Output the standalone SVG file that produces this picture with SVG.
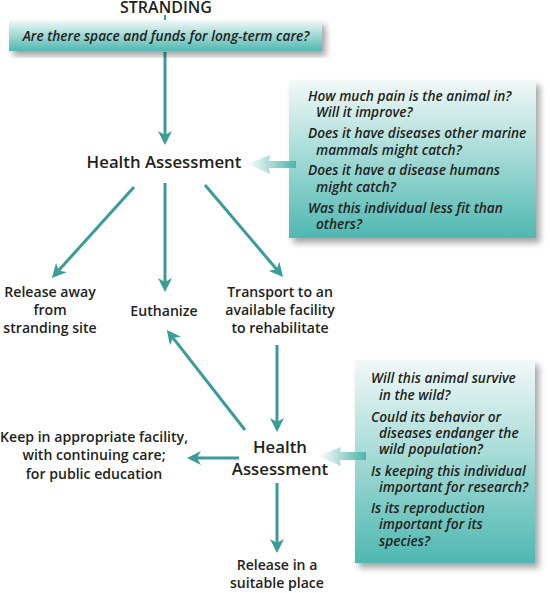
<svg xmlns="http://www.w3.org/2000/svg" width="550" height="593" viewBox="0 0 550 593">
<defs>
<style>
.lbl{font-family:"Open Sans","Liberation Sans",sans-serif;font-weight:600;fill:#231f20;text-anchor:middle}
.n{font-size:14.1px}
.big{font-size:16.8px}
.q{font-family:"Open Sans","Liberation Sans",sans-serif;font-style:italic;font-weight:600;font-size:13.7px;fill:#231f20}
.ln{stroke:#3a9c97;stroke-width:3;fill:none;marker-end:url(#ah)}
.box{fill:url(#bg);filter:url(#sh)}
</style>
<linearGradient id="bg" x1="0" y1="0" x2="0" y2="1">
<stop offset="0" stop-color="#f2f9f8"/>
<stop offset="1" stop-color="#4fb8b1"/>
</linearGradient>
<linearGradient id="fa" x1="0" y1="0" x2="1" y2="0">
<stop offset="0" stop-color="#ffffff"/>
<stop offset="1" stop-color="#4db3ac"/>
</linearGradient>
<filter id="sh" x="-10%" y="-10%" width="125%" height="130%">
<feDropShadow dx="4" dy="5" stdDeviation="3" flood-color="#000" flood-opacity="0.35"/>
</filter>
<marker id="ah" markerWidth="16" markerHeight="14" refX="4" refY="7" orient="auto" markerUnits="userSpaceOnUse">
<path d="M0,0 L14,7 L0,14 L4,7 Z" fill="#3a9c97"/>
</marker>
</defs>
<rect width="550" height="593" fill="#ffffff"/>

<g id="connectors">
<line x1="165" y1="15" x2="165" y2="21" stroke="#3a9c97" stroke-width="2"/>
<line class="ln" x1="165" y1="52" x2="165" y2="135"/>
<line class="ln" x1="134" y1="187" x2="58.6" y2="270.5"/>
<line class="ln" x1="165" y1="183" x2="165" y2="282"/>
<line class="ln" x1="205" y1="185" x2="276.6" y2="269.3"/>
<line class="ln" x1="245" y1="430" x2="173" y2="337.8"/>
<line class="ln" x1="277" y1="345" x2="277" y2="422"/>
<line class="ln" x1="239" y1="458" x2="197" y2="458"/>
<line class="ln" x1="277" y1="483" x2="277" y2="543"/>
</g>

<g id="stranding">
<text class="lbl" x="166" y="12.5" font-size="16" font-weight="700">STRANDING</text>
</g>

<g id="longterm">
<rect class="box" x="9" y="20" width="313" height="31"/>
<text class="q" x="166" y="41" text-anchor="middle" font-size="14.4">Are there space and funds for long-term care?</text>
</g>

<g id="questions1">
<rect class="box" x="289" y="80" width="247" height="158"/>
<text class="q" x="308" y="101">How much pain is the animal in?</text>
<text class="q" x="316" y="117">Will it improve?</text>
<text class="q" x="308" y="138">Does it have diseases other marine</text>
<text class="q" x="316" y="155">mammals might catch?</text>
<text class="q" x="308" y="175">Does it have a disease humans</text>
<text class="q" x="316" y="192">might catch?</text>
<text class="q" x="308" y="213">Was this individual less fit than</text>
<text class="q" x="316" y="229">others?</text>
</g>

<g id="fatarrow1">
<polygon points="247,164 270,155 269,161 296,161 296,168 269,168 270,174" fill="url(#fa)"/>
</g>

<g id="health1">
<text class="lbl big" x="164" y="168">Health Assessment</text>
</g>

<g id="release-away">
<text class="lbl n" x="50" y="297">Release away</text>
<text class="lbl n" x="50" y="315">from</text>
<text class="lbl n" x="50" y="333">stranding site</text>
</g>

<g id="euthanize">
<text class="lbl n" x="164" y="316">Euthanize</text>
</g>

<g id="transport">
<text class="lbl n" x="280" y="297">Transport to an</text>
<text class="lbl n" x="280" y="315">available facility</text>
<text class="lbl n" x="280" y="333">to rehabilitate</text>
</g>

<g id="questions2">
<rect class="box" x="355" y="360" width="180" height="203"/>
<text class="q" x="371" y="383">Will this animal survive</text>
<text class="q" x="379" y="400">in the wild?</text>
<text class="q" x="371" y="422">Could its behavior or</text>
<text class="q" x="379" y="438">diseases endanger the</text>
<text class="q" x="379" y="454">wild population?</text>
<text class="q" x="371" y="476">Is keeping this individual</text>
<text class="q" x="379" y="492">important for research?</text>
<text class="q" x="371" y="513">Is its reproduction</text>
<text class="q" x="379" y="529">important for its</text>
<text class="q" x="379" y="546">species?</text>
</g>

<g id="fatarrow2">
<polygon points="318,456 341,447 340,452 366,452 366,460 340,460 341,466" fill="url(#fa)"/>
</g>

<g id="health2">
<text class="lbl big" x="280" y="453">Health</text>
<text class="lbl big" x="280" y="475">Assessment</text>
</g>

<g id="keep">
<text class="lbl n" x="94" y="442">Keep in appropriate facility,</text>
<text class="lbl n" x="94" y="460">with continuing care;</text>
<text class="lbl n" x="94" y="479">for public education</text>
</g>

<g id="release-suitable">
<text class="lbl n" x="277" y="570">Release in a</text>
<text class="lbl n" x="277" y="588">suitable place</text>
</g>
</svg>
